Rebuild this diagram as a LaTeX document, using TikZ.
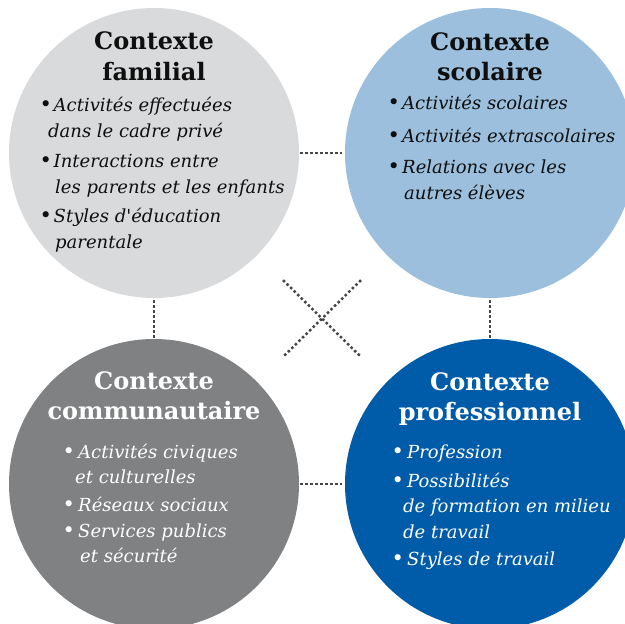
\documentclass[tikz,border=0pt]{standalone}
\usepackage{fontspec}
\setmainfont{DejaVu Serif}[Ligatures=TeXOff]
\definecolor{cTL}{RGB}{217,218,219}
\definecolor{cTR}{RGB}{155,191,220}
\definecolor{cBL}{RGB}{128,129,131}
\definecolor{cBR}{RGB}{0,92,169}
\definecolor{dotc}{RGB}{70,70,74}
\definecolor{ink}{RGB}{15,15,15}
\newcommand\bul[1]{\makebox[#1][l]{\hspace*{-2.5pt}\fontsize{21}{21}\selectfont\textup{•}}}
\begin{document}
\begin{tikzpicture}[x=1pt,y=-1pt,
  disc/.style={circle, minimum size=290pt, inner sep=0pt, draw=none},
  conn/.style={draw=dotc, line width=2.5pt, dash pattern=on 2.5pt off 2.5pt},
  head/.style={font=\fontsize{24}{30.5}\selectfont\bfseries, align=center, inner sep=0pt, anchor=base},
  itm/.style={font=\fontsize{18}{26}\selectfont\itshape, align=left, inner sep=0pt, anchor=base west}]
\useasboundingbox (0,0) rectangle (625,624);
\clip (0,0) rectangle (625,624);
% discs
\node[disc, fill=cTL] (tl) at (154,153) {};
\node[disc, fill=cTR] (tr) at (490,153) {};
\node[disc, fill=cBL] (bl) at (154,484) {};
\node[disc, fill=cBR] (br) at (490,484) {};
% connectors
\draw[conn, shorten <=1pt, shorten >=3pt] (tl.east) -- (tr.west);
\draw[conn, shorten <=1pt, shorten >=3pt] (bl.east) -- (br.west);
\draw[conn, shorten <=2pt, shorten >=1pt] (tl.south) -- (bl.north);
\draw[conn, shorten <=2pt, shorten >=1pt] (tr.south) -- (br.north);
\draw[conn, shorten <=36pt, shorten >=36pt] (tl) -- (br);
\draw[conn, shorten <=36pt, shorten >=36pt] (tr) -- (bl);
% top left (node placed at baseline of its last line)
\node[head, text=ink] (htl) at (154,80) {Contexte\\familial};
\node[itm, text=ink] (tl1) at (42,137) {\bul{11.5pt}Activités effectuées\\\hspace*{6pt}dans le cadre privé};
\node[itm, text=ink] (tl2) at (42,193) {\bul{11.5pt}Interactions entre\\\hspace*{13pt}les parents et les enfants};
\node[itm, text=ink] (tl3) at (42,248) {\bul{11.5pt}Styles d'éducation\\\hspace*{13pt}parentale};
% top right
\node[head, text=ink] (htr) at (490,80.5) {Contexte\\scolaire};
\node[itm, text=ink] (tr1) at (390,109) {\bul{12pt}Activités scolaires};
\node[itm, text=ink] (tr2) at (390,142) {\bul{12pt}Activités extrascolaires};
\node[itm, text=ink] (tr3) at (390,199) {\bul{12pt}Relations avec les\\\hspace*{14pt}autres élèves};
% bottom left
\node[head, text=white] (hbl) at (154,419.5) {Contexte\\communautaire};
\node[itm, text=white, font=\fontsize{18}{25}\selectfont\itshape] (bl1) at (65,483) {\bul{13pt}Activités civiques\\\hspace*{10pt}et culturelles};
\node[itm, text=white, font=\fontsize{18}{25}\selectfont\itshape] (bl2) at (65,511) {\bul{13pt}Réseaux sociaux};
\node[itm, text=white, font=\fontsize{18}{25}\selectfont\itshape] (bl3) at (65,562) {\bul{13pt}Services publics\\\hspace*{15pt}et sécurité};
% bottom right
\node[head, text=white] (hbr) at (490,420.5) {Contexte\\professionnel};
\node[itm, text=white, font=\fontsize{18}{25.5}\selectfont\itshape] (br1) at (394,458) {\bul{13pt}Profession};
\node[itm, text=white, font=\fontsize{18}{25.5}\selectfont\itshape] (br2) at (394,538) {\bul{13pt}Possibilités\\\hspace*{9pt}de formation en milieu\\\hspace*{9pt}de travail};
\node[itm, text=white, font=\fontsize{18}{25.5}\selectfont\itshape] (br3) at (394,565) {\bul{13pt}Styles de travail};
\end{tikzpicture}
\end{document}
